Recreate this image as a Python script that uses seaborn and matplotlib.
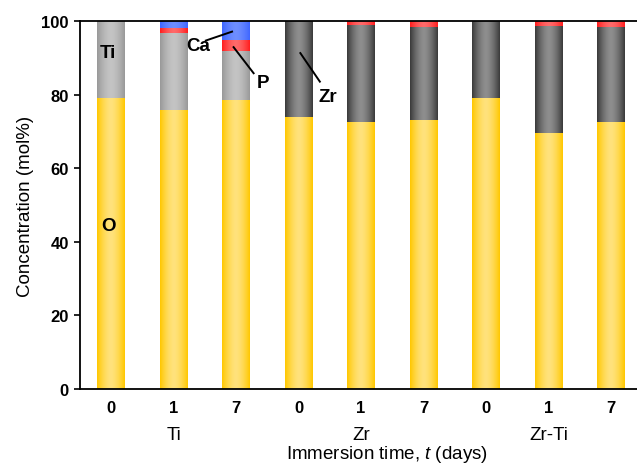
import numpy as np
import pandas as pd
import matplotlib
matplotlib.use("Agg")
import matplotlib.pyplot as plt
import matplotlib.colors as mcolors
import seaborn as sns

# ---- data ----
metals = ["Ti", "Ti", "Ti", "Zr", "Zr", "Zr", "Zr-Ti", "Zr-Ti", "Zr-Ti"]
days = ["0", "1", "7", "0", "1", "7", "0", "1", "7"]
O = [79.1, 75.8, 78.5, 73.9, 72.6, 73.1, 79.1, 69.6, 72.6]
Ti = [20.9, 21.0, 13.3, 0, 0, 0, 0, 0, 0]
Zr = [0, 0, 0, 26.1, 26.3, 25.3, 20.9, 29.0, 25.8]
P = [0, 1.2, 3.0, 0, 1.1, 1.6, 0, 1.4, 1.6]
Ca = [0, 2.0, 5.2, 0, 0, 0, 0, 0, 0]
group_labels = ["Ti", "Zr", "Zr-Ti"]
y_ticks = [0, 20, 40, 60, 80, 100]

sns.set_theme(style="white")
plt.rcParams["font.family"] = ["Liberation Sans", "DejaVu Sans"]
plt.rcParams["mathtext.fontset"] = "custom"
plt.rcParams["mathtext.rm"] = "Liberation Sans"
plt.rcParams["mathtext.it"] = "Liberation Sans:italic"

df = pd.DataFrame({"metal": metals, "day": days, "O": O, "Ti": Ti, "Zr": Zr, "P": P, "Ca": Ca})
df["key"] = [f"{m}-{d}" for m, d in zip(metals, days)]
df["L1"] = df["O"]
df["L2"] = df["O"] + df["Ti"] + df["Zr"]
df["L3"] = df["L2"] + df["P"]
df["L4"] = df["L3"] + df["Ca"]
order = list(df["key"])

C_YEL = "#FFC800"
C_TI = "#999999"
C_ZR = "#3A3A3A"
C_P = "#FF1E1E"
C_CA = "#3F66FF"
centers = {C_YEL: "#FFE27C", C_TI: "#C4C4C4", C_ZR: "#8E8E8E", C_P: "#FF6A6A", C_CA: "#6E8EFF"}

fig = plt.figure(figsize=(6.37, 4.64), dpi=100)
ax = fig.add_axes([80 / 637, 74 / 464, 557 / 637, 368 / 464])

W = 0.44
sns.barplot(data=df, x="key", y="L4", order=order, color=C_CA, saturation=1, width=W, ax=ax)
sns.barplot(data=df, x="key", y="L3", order=order, color=C_P, saturation=1, width=W, ax=ax)
sns.barplot(data=df, x="key", y="L2", order=order, hue="metal",
            palette={"Ti": C_TI, "Zr": C_ZR, "Zr-Ti": C_ZR}, dodge=False,
            saturation=1, width=W, legend=False, ax=ax)
sns.barplot(data=df, x="key", y="L1", order=order, color=C_YEL, saturation=1, width=W, ax=ax)

# horizontal gradient shading on each bar
for i, p in enumerate(list(ax.patches)):
    h = p.get_height()
    if h <= 0:
        continue
    fc = mcolors.to_hex(p.get_facecolor()).upper()
    cc = centers.get(fc, fc)
    e = np.array(mcolors.to_rgb(fc))
    c = np.array(mcolors.to_rgb(cc))
    t = np.linspace(-1, 1, 64)
    m = np.clip(np.abs(t), 0, 1) ** 1.6
    cols = c[None, :] * (1 - m[:, None]) + e[None, :] * m[:, None]
    img = cols[None, :, :]
    x0 = p.get_x()
    w = p.get_width()
    y0 = p.get_y()
    im = ax.imshow(img, extent=(x0, x0 + w, y0, y0 + h), aspect="auto",
                   interpolation="bilinear", zorder=1 + 0.001 * i)
    im.set_clip_path(p)

ax.set_xlim(-0.5, 8.42)
ax.set_ylim(0, 100)
ax.set_yticks(y_ticks)
ax.set_yticklabels([str(v) for v in y_ticks], fontsize=12, fontweight="bold")
ax.set_xticks(range(len(order)))
ax.set_xticklabels(days, fontsize=12, fontweight="bold")
ax.tick_params(axis="y", direction="out", length=4, width=1.2, pad=4, left=True, colors="black")
ax.tick_params(axis="x", length=0, pad=8, colors="black")
for s in ["left", "bottom", "top"]:
    ax.spines[s].set_visible(True)
    ax.spines[s].set_color("black")
    ax.spines[s].set_linewidth(1.3)
    ax.spines[s].set_zorder(5)
ax.spines["right"].set_visible(False)

ax.set_xlabel("")
ax.set_ylabel("Concentration (mol%)", fontsize=13.5, color="black")
ax.yaxis.set_label_coords(-0.083, 0.5)

for gi, g in enumerate(group_labels):
    ax.text(1 + 3 * gi, -0.125, g, transform=ax.get_xaxis_transform(),
            ha="center", va="center", fontsize=13.5, color="black")
fig.text(387 / 637, 9 / 464, "Immersion time, $\\it{t}$ (days)", ha="center", va="center",
         fontsize=13.5, color="black")

# in-plot labels and leader lines
lab = dict(fontsize=13.5, fontweight="bold", ha="center", va="center", color="black", zorder=6)
ax.text(-0.05, 91.4, "Ti", **lab)
ax.text(-0.05, 44.3, "O", **lab)
ax.text(1.39, 93.4, "Ca", **lab)
ax.text(2.43, 83.2, "P", **lab)
ax.text(3.47, 79.5, "Zr", **lab)
lk = dict(color="black", lw=1.4, zorder=6, solid_capstyle="butt")
ax.plot([1.5, 1.95], [94.6, 97.2], **lk)
ax.plot([1.95, 2.29], [93.1, 85.6], **lk)
ax.plot([3.02, 3.35], [91.5, 83.3], **lk)

fig.savefig("out.png", dpi=100)
